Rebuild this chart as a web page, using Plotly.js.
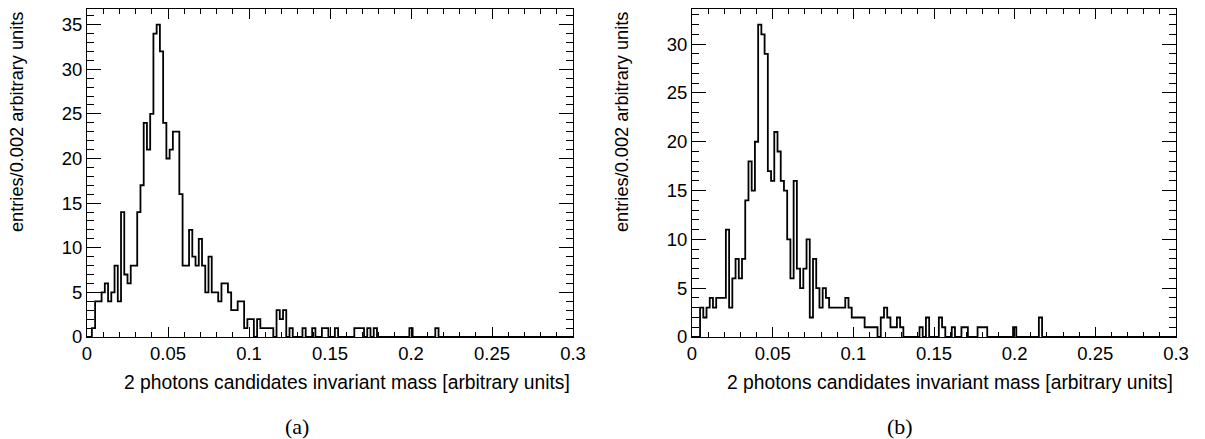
<!DOCTYPE html>
<html>
<head>
<meta charset="utf-8">
<script src="https://cdn.plot.ly/plotly-3.0.1.min.js"></script>
<style>
html,body{margin:0;padding:0;background:#ffffff;}
#chart{width:1205px;height:439px;}
</style>
</head>
<body>
<div id="chart"></div>
<script>
// ---- data ----
const binWidth = 0.002;
const binOffset = 0.001;   // histogram bin edges sit half a bin to the right of the axis ticks
const countsA = [
  0,1,4,4,5,6,4,5,8,4,
  14,7,6,8,8,14,17,24,21,25,
  34,35,32,24,20,21,23,23,16,8,
  8,12,9,8,11,8,5,9,5,5,
  4,6,6,5,3,3,4,4,1,2,
  2,0,2,1,1,1,1,0,3,2,
  3,0,1,0,0,0,1,0,0,1,
  0,0,1,1,0,0,1,0,0,0,
  0,0,1,1,1,0,1,0,1,0,
  0,0,0,0,0,0,0,0,0,1,
  0,0,0,0,0,0,0,1,0,0,
  0,0,0,0,0,0,0,0,0,0,
  0,0,0,0,0,0,0,0,0,0,
  0,0,0,0,0,0,0,0,0,0,
  0,0,0,0,0,0,0,0,0,0
];
const countsB = [
  0,0,3,2,3,4,3,4,4,4,
  11,3,6,8,6,8,14,18,15,20,
  32,31,29,17,16,21,19,16,15,10,
  6,16,7,5,7,10,2,8,5,3,
  5,4,3,3,3,3,3,4,3,2,
  2,2,2,1,1,1,1,0,2,3,
  2,1,1,2,1,0,0,0,0,0,
  1,0,2,0,0,0,2,1,0,0,
  1,0,0,1,1,0,0,0,1,1,
  1,0,0,0,0,0,0,0,0,1,
  0,0,0,0,0,0,0,2,0,0,
  0,0,0,0,0,0,0,0,0,0,
  0,0,0,0,0,0,0,0,0,0,
  0,0,0,0,0,0,0,0,0,0,
  0,0,0,0,0,0,0,0,0,0
];
const xTickVals = [0, 0.05, 0.1, 0.15, 0.2, 0.25, 0.3];
const xTickText = ['0', '0.05', '0.1', '0.15', '0.2', '0.25', '0.3'];
const yTickValsA = [0, 5, 10, 15, 20, 25, 30, 35];
const yTickValsB = [0, 5, 10, 15, 20, 25, 30];
const xTitle = '2 photons candidates invariant mass [arbitrary units]';
const yTitle = 'entries/0.002 arbitrary units';
const panelLabels = ['(a)', '(b)'];

// ---- build step traces (bin edges + contents) ----
function stepTrace(counts, xa, ya) {
  const x = [0], y = [0];
  for (let i = 0; i < counts.length; i++) { x.push(binOffset + i * binWidth); y.push(counts[i]); }
  x.push(binOffset + counts.length * binWidth); y.push(counts[counts.length - 1]);
  return {x: x, y: y, type: 'scatter', mode: 'lines', line: {shape: 'hv', color: '#000', width: 1.8},
          xaxis: xa, yaxis: ya, hoverinfo: 'skip', showlegend: false};
}

const W = 1205, H = 439;
const tickFont = {family: 'Liberation Sans, Arial, sans-serif', size: 18.5, color: '#000'};
const plotTop = 9, plotBottom = 337;
const yDom = [(H - plotBottom) / H, (H - plotTop) / H];

function xAxis(x0, x1, anchor) {
  return {domain: [x0 / W, x1 / W], anchor: anchor, range: [0, 0.3],
    tickmode: 'array', tickvals: xTickVals, ticktext: xTickText,
    ticks: 'inside', ticklen: 10, tickwidth: 1, tickcolor: '#000',
    minor: {ticks: 'inside', ticklen: 5, dtick: 0.01, tick0: 0, tickwidth: 1, tickcolor: '#000', showgrid: false},
    showline: true, linecolor: '#000', linewidth: 1, mirror: 'allticks',
    showgrid: false, zeroline: false, tickfont: tickFont, fixedrange: true};
}
function yAxis(ymax, vals, anchor) {
  return {domain: yDom, anchor: anchor, range: [0, ymax],
    tickmode: 'array', tickvals: vals, ticktext: vals.map(String),
    ticks: 'inside', ticklen: 14, tickwidth: 1, tickcolor: '#000',
    minor: {ticks: 'inside', ticklen: 7, dtick: 1, tick0: 0, tickwidth: 1, tickcolor: '#000', showgrid: false},
    showline: true, linecolor: '#000', linewidth: 1, mirror: 'allticks',
    showgrid: false, zeroline: false, tickfont: tickFont, fixedrange: true};
}

const maxA = Math.max(...countsA) * 1.05;
const maxB = Math.max(...countsB) * 1.05;

const xTitleFont = {family: 'Liberation Sans, Arial, sans-serif', size: 19.3, color: '#000'};
const yTitleFont = {family: 'Liberation Sans, Arial, sans-serif', size: 18.2, color: '#000'};
const capFont = {family: 'Liberation Serif, DejaVu Serif, serif', size: 22, color: '#000'};

const annotations = [
  {text: xTitle, xref: 'paper', yref: 'paper', x: 572 / W, y: (H - 382) / H, xanchor: 'right', yanchor: 'middle', showarrow: false, font: xTitleFont},
  {text: xTitle, xref: 'paper', yref: 'paper', x: 1175 / W, y: (H - 382) / H, xanchor: 'right', yanchor: 'middle', showarrow: false, font: xTitleFont},
  {text: yTitle, xref: 'paper', yref: 'paper', x: 17 / W, y: (H - 10) / H, xanchor: 'center', yanchor: 'top', textangle: -90, showarrow: false, font: yTitleFont},
  {text: yTitle, xref: 'paper', yref: 'paper', x: 622 / W, y: (H - 10) / H, xanchor: 'center', yanchor: 'top', textangle: -90, showarrow: false, font: yTitleFont},
  {text: panelLabels[0], xref: 'paper', yref: 'paper', x: 297 / W, y: (H - 426) / H, xanchor: 'center', yanchor: 'middle', showarrow: false, font: capFont},
  {text: panelLabels[1], xref: 'paper', yref: 'paper', x: 900 / W, y: (H - 426) / H, xanchor: 'center', yanchor: 'middle', showarrow: false, font: capFont}
];

const layout = {
  width: W, height: H,
  margin: {l: 0, r: 0, t: 0, b: 0},
  paper_bgcolor: '#fff', plot_bgcolor: '#fff',
  showlegend: false,
  xaxis: xAxis(87, 573, 'y'),
  yaxis: yAxis(maxA, yTickValsA, 'x'),
  xaxis2: xAxis(692, 1176, 'y2'),
  yaxis2: yAxis(maxB, yTickValsB, 'x2'),
  annotations: annotations
};

Plotly.newPlot('chart', [stepTrace(countsA, 'x', 'y'), stepTrace(countsB, 'x2', 'y2')], layout, {staticPlot: true, displayModeBar: false});
</script>
</body>
</html>
